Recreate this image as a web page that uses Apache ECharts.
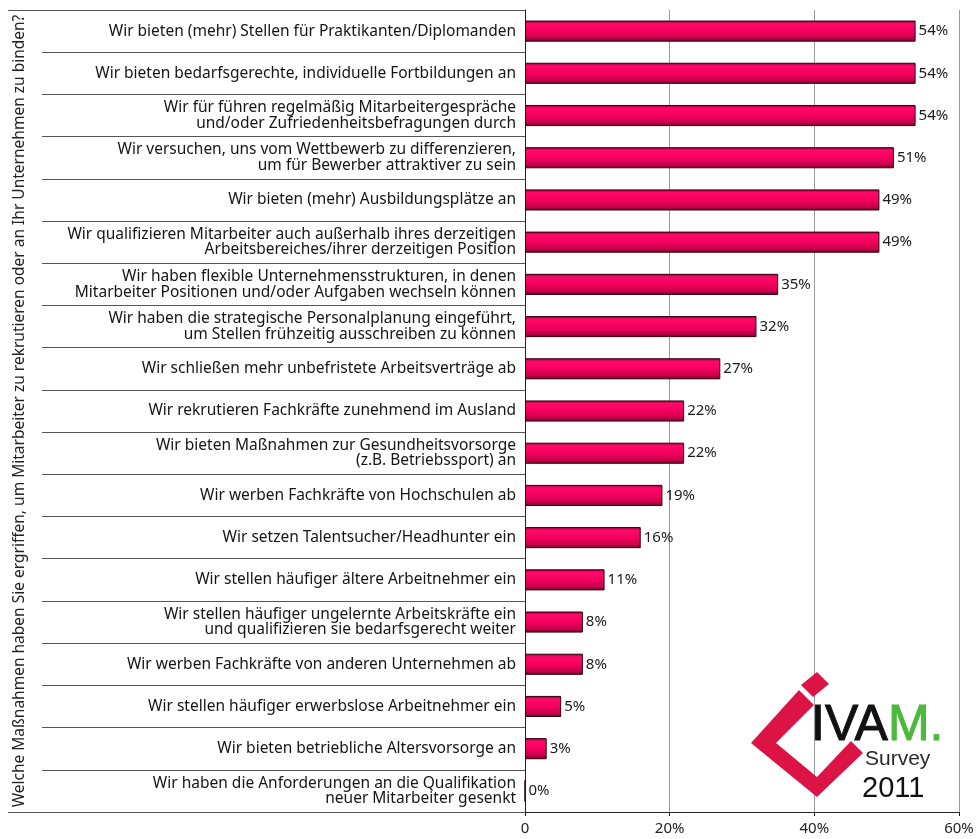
<!DOCTYPE html>
<html>
<head>
<meta charset="utf-8">
<script src="https://cdn.jsdelivr.net/npm/echarts@6/dist/echarts.min.js"></script>
<style>
  html, body { margin: 0; padding: 0; background: #fff; }
  #chart { width: 979px; height: 839px; }
</style>
</head>
<body>
<div id="chart"></div>
<script>
// Measures taken by companies (share of respondents, %)
const categories = [
  'Wir bieten (mehr) Stellen für Praktikanten/Diplomanden',
  'Wir bieten bedarfsgerechte, individuelle Fortbildungen an',
  'Wir für führen regelmäßig Mitarbeitergespräche\nund/oder Zufriedenheitsbefragungen durch',
  'Wir versuchen, uns vom Wettbewerb zu differenzieren,\num für Bewerber attraktiver zu sein',
  'Wir bieten (mehr) Ausbildungsplätze an',
  'Wir qualifizieren Mitarbeiter auch außerhalb ihres derzeitigen\nArbeitsbereiches/ihrer derzeitigen Position',
  'Wir haben flexible Unternehmensstrukturen, in denen\nMitarbeiter Positionen und/oder Aufgaben wechseln können',
  'Wir haben die strategische Personalplanung eingeführt,\num Stellen frühzeitig ausschreiben zu können',
  'Wir schließen mehr unbefristete Arbeitsverträge ab',
  'Wir rekrutieren Fachkräfte zunehmend im Ausland',
  'Wir bieten Maßnahmen zur Gesundheitsvorsorge\n(z.B. Betriebssport) an',
  'Wir werben Fachkräfte von Hochschulen ab',
  'Wir setzen Talentsucher/Headhunter ein',
  'Wir stellen häufiger ältere Arbeitnehmer ein',
  'Wir stellen häufiger ungelernte Arbeitskräfte ein\nund qualifizieren sie bedarfsgerecht weiter',
  'Wir werben Fachkräfte von anderen Unternehmen ab',
  'Wir stellen häufiger erwerbslose Arbeitnehmer ein',
  'Wir bieten betriebliche Altersvorsorge an',
  'Wir haben die Anforderungen an die Qualifikation\nneuer Mitarbeiter gesenkt'
];
const shares = [54, 54, 54, 51, 49, 49, 35, 32, 27, 22, 22, 19, 16, 11, 8, 8, 5, 3, 0];
const xTicks = [0, 20, 40, 60];
const questionTitle = 'Welche Maßnahmen haben Sie ergriffen, um Mitarbeiter zu rekrutieren oder an Ihr Unternehmen zu binden?';

const FONT = '"Noto Sans", "Open Sans", sans-serif';
const LOGO_FONT = '"Liberation Sans", Arial, sans-serif';
const chart = echarts.init(document.getElementById('chart'), null, { renderer: 'canvas' });

const barFill = new echarts.graphic.LinearGradient(0, 0, 0, 1, [
  { offset: 0, color: '#8a002e' },
  { offset: 0.15, color: '#ff0a68' },
  { offset: 0.5, color: '#f5005e' },
  { offset: 0.82, color: '#c8004b' },
  { offset: 1, color: '#6e0024' }
]);

chart.setOption({
  animation: false,
  backgroundColor: '#fff',
  grid: { left: 525, right: 20, top: 10, bottom: 27, containLabel: false },
  xAxis: {
    type: 'value',
    min: xTicks[0],
    max: xTicks[xTicks.length - 1],
    interval: 20,
    axisLine: { show: true, lineStyle: { color: '#222', width: 1 } },
    axisTick: { show: true, length: 4, lineStyle: { color: '#222' } },
    axisLabel: {
      color: '#222', fontSize: 15, fontFamily: FONT, margin: 9,
      formatter: v => (v === 0 ? '0' : v + '%')
    },
    splitLine: { show: true, lineStyle: { color: '#9a9a9a', width: 1 } }
  },
  yAxis: {
    type: 'category',
    inverse: true,
    data: categories,
    name: questionTitle,
    nameLocation: 'middle',
    nameRotate: 90,
    nameGap: 497,
    nameTextStyle: { color: '#222', fontSize: 15.5, fontFamily: FONT },
    axisLine: { show: true, lineStyle: { color: '#222', width: 1 } },
    axisTick: { show: true, length: 483, lineStyle: { color: '#555', width: 1 } },
    axisLabel: {
      color: '#151515', fontSize: 15.5, fontFamily: FONT, lineHeight: 15.5,
      margin: 9, align: 'right'
    },
    splitLine: { show: false }
  },
  series: [{
    type: 'bar',
    data: shares,
    barWidth: '50%',
    itemStyle: { color: barFill, borderColor: '#2e000e', borderWidth: 1 },
    label: {
      show: true, position: 'right', distance: 3,
      color: '#1a1a1a', fontSize: 15, fontFamily: FONT,
      formatter: p => p.value + '%'
    }
  }]
});

// Outer frame lines for the category column (top and bottom extend to the title)
const x0 = chart.convertToPixel({ gridIndex: 0 }, [0, 0])[0];
const gridRect = chart.getModel().getComponent('grid').coordinateSystem.getRect();
const frame = [gridRect.y, gridRect.y + gridRect.height].map(y => ({
  type: 'line',
  shape: { x1: 8, y1: Math.round(y) + 0.5, x2: x0, y2: Math.round(y) + 0.5 },
  style: { stroke: '#555', lineWidth: 1 },
  silent: true
}));

// Survey logo (children in local coordinates of the group origin)
const logo = {
  type: 'group',
  x: 745, y: 660,
  children: [
    // red chevron
    { type: 'polygon', shape: { points: [[54, 30], [69, 45], [31, 83], [72, 117], [106, 81], [118, 93], [72, 137], [6, 83]] },
      style: { fill: '#dc1445' } },
    // square dot above the I
    { type: 'polygon', shape: { points: [[72, 12], [84, 24], [68, 37], [56, 25]] },
      style: { fill: '#dc1445' } },
    { type: 'text', style: {
        x: 66, y: 91, text: '{a|IVA}{b|M.}', textVerticalAlign: 'bottom',
        rich: {
          a: { fill: '#111', font: '50px ' + LOGO_FONT, stroke: '#111', lineWidth: 1 },
          b: { fill: '#4cb83c', font: '50px ' + LOGO_FONT, stroke: '#4cb83c', lineWidth: 1 }
        }
      } },
    { type: 'text', style: { x: 120, y: 89, text: 'Survey', fill: '#2a2a2a', font: '21px ' + LOGO_FONT, textVerticalAlign: 'top' } },
    { type: 'text', style: { x: 117, y: 114, text: '2011', fill: '#111', font: '29px ' + LOGO_FONT, textVerticalAlign: 'top' } }
  ]
};

chart.setOption({ graphic: frame.concat([logo]) });
</script>
</body>
</html>
